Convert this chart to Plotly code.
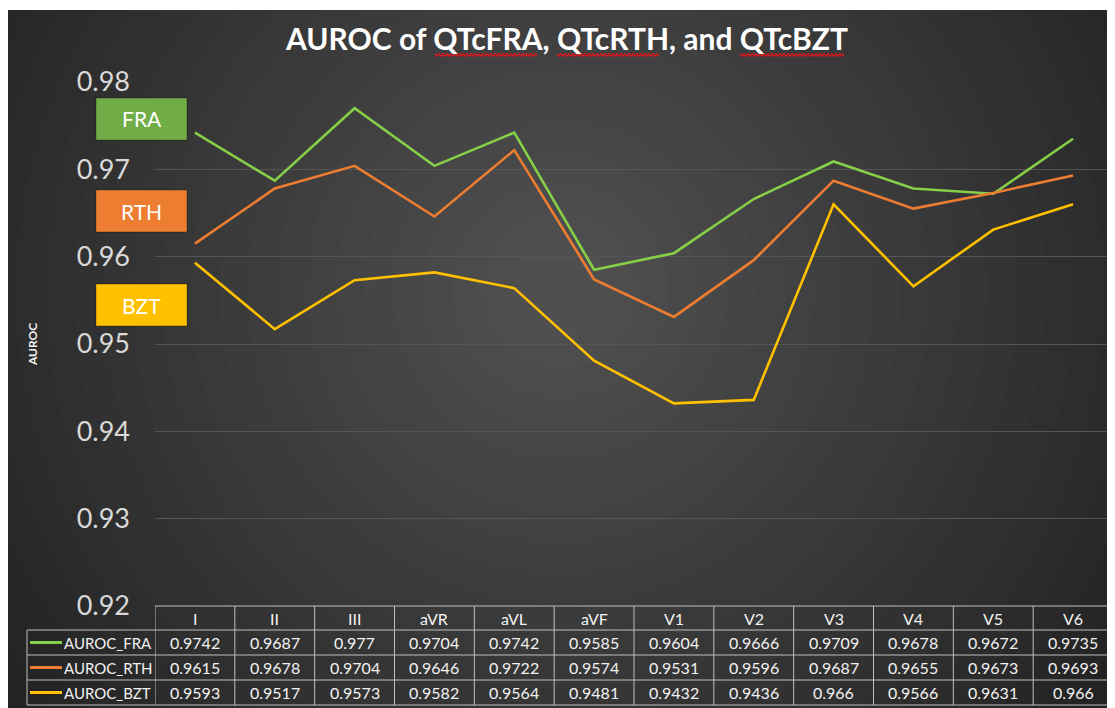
import plotly.graph_objects as go

# Data
leads = ["I", "II", "III", "aVR", "aVL", "aVF", "V1", "V2", "V3", "V4", "V5", "V6"]
auroc_fra = [0.9742, 0.9687, 0.977, 0.9704, 0.9742, 0.9585, 0.9604, 0.9666, 0.9709, 0.9678, 0.9672, 0.9735]
auroc_rth = [0.9615, 0.9678, 0.9704, 0.9646, 0.9722, 0.9574, 0.9531, 0.9596, 0.9687, 0.9655, 0.9673, 0.9693]
auroc_bzt = [0.9593, 0.9517, 0.9573, 0.9582, 0.9564, 0.9481, 0.9432, 0.9436, 0.966, 0.9566, 0.9631, 0.966]
series_names = ["AUROC_FRA", "AUROC_RTH", "AUROC_BZT"]
box_labels = ["FRA", "RTH", "BZT"]

line_colors = ["#86CF48", "#ED7D31", "#FFC000"]
box_colors = ["#70AD47", "#ED7D31", "#FFC000"]

# page body adds an 8px margin, so screen coords = figure coords + OFF
OFF = 8
W, H = 1115, 708
L, R, T, B = 155 - OFF, 10, 82 - OFF, 110
pw, ph = W - L - R, H - T - B


def px(x):
    return (x - OFF - L) / pw


def py(y):
    return (H - B - (y - OFF)) / ph


FONT = "Lato, Open Sans, sans-serif"

fig = go.Figure()
for name, vals, col in zip(series_names, [auroc_fra, auroc_rth, auroc_bzt], line_colors):
    fig.add_trace(go.Scatter(x=list(range(len(leads))), y=vals, mode="lines", name=name,
                             line=dict(color=col, width=2.6), showlegend=False))

shapes = []
# dark background with a soft radial glow
shapes.append(dict(type="rect", xref="paper", yref="paper", x0=px(4), x1=px(W + 20), y0=py(H + 20), y1=py(10),
                   fillcolor="#232323", line=dict(width=0), layer="below"))
cx, cy = 560, 290
n = 22
for i in range(n):
    r = 660 - i * 29
    shapes.append(dict(type="circle", xref="paper", yref="paper",
                       x0=px(cx - r), x1=px(cx + r), y0=py(cy + r), y1=py(cy - r),
                       fillcolor="rgba(255,255,255,0.0105)", line=dict(width=0), layer="below"))
# white strip at top edge of the screenshot
shapes.append(dict(type="rect", xref="paper", yref="paper", x0=px(-20), x1=px(W + 20), y0=py(10), y1=py(-20),
                   fillcolor="white", line=dict(width=0), layer="below"))

# spell-check squiggles under the title words
for x_start, x_end in [(435, 538), (557, 660), (740, 845)]:
    pts = []
    x, k = x_start, 0
    while x <= x_end:
        pts.append(f"{px(x):.5f},{py(55 + (1.2 if k % 2 else -1.2)):.5f}")
        x += 2
        k += 1
    shapes.append(dict(type="path", xref="paper", yref="paper", path="M" + " L".join(pts),
                       line=dict(color="#E8141B", width=1.2)))

# data table grid
tc = "#BFBFBF"
row_edges = [606, 630, 655, 680, 705]
shapes.append(dict(type="line", xref="paper", yref="paper", x0=0, x1=1, y0=py(row_edges[0]), y1=py(row_edges[0]),
                   line=dict(color=tc, width=1)))
for yy in row_edges[1:]:
    shapes.append(dict(type="line", xref="paper", yref="paper", x0=px(27), x1=1, y0=py(yy), y1=py(yy),
                       line=dict(color=tc, width=1)))
for i in range(len(leads) + 1):
    shapes.append(dict(type="line", xref="x", yref="paper", x0=i - 0.5, x1=i - 0.5,
                       y0=py(row_edges[0]), y1=py(row_edges[-1]), line=dict(color=tc, width=1)))
shapes.append(dict(type="line", xref="paper", yref="paper", x0=px(27), x1=px(27),
                   y0=py(row_edges[1]), y1=py(row_edges[-1]), line=dict(color=tc, width=1)))

annotations = []
tf = dict(family=FONT, size=16, color="#F2F2F2")
for i, lead in enumerate(leads):
    annotations.append(dict(x=i, y=py((row_edges[0] + row_edges[1]) / 2), xref="x", yref="paper",
                            text=lead, showarrow=False, xanchor="center", yanchor="middle", font=tf))
for r, (name, vals, col) in enumerate(zip(series_names, [auroc_fra, auroc_rth, auroc_bzt], line_colors)):
    yc = py((row_edges[r + 1] + row_edges[r + 2]) / 2)
    shapes.append(dict(type="line", xref="paper", yref="paper", x0=px(30), x1=px(62), y0=yc, y1=yc,
                       line=dict(color=col, width=3)))
    annotations.append(dict(x=px(62), y=yc, xref="paper", yref="paper", text=name, showarrow=False,
                            xanchor="left", yanchor="middle", font=dict(family=FONT, size=15, color="#F2F2F2")))
    for i, v in enumerate(vals):
        annotations.append(dict(x=i, y=yc, xref="x", yref="paper", text=f"{v:g}", showarrow=False,
                                xanchor="center", yanchor="middle", font=tf))

# series label boxes
box_tops = [98, 190, 284]
for lab, col, top in zip(box_labels, box_colors, box_tops):
    shapes.append(dict(type="rect", xref="paper", yref="paper", x0=px(96), x1=px(187),
                       y0=py(top + 42), y1=py(top), fillcolor=col, line=dict(color="rgba(0,0,0,0.3)", width=1)))
    annotations.append(dict(x=px(141.5), y=py(top + 21), xref="paper", yref="paper", text=lab, showarrow=False,
                            xanchor="center", yanchor="middle",
                            font=dict(family=FONT, size=21, color="white")))

# y axis title
annotations.append(dict(x=px(32), y=py(345), xref="paper", yref="paper", text="<b>AUROC</b>", showarrow=False,
                        textangle=-90, xanchor="center", yanchor="middle",
                        font=dict(family=FONT, size=12, color="#F2F2F2")))

fig.update_layout(
    width=W, height=H,
    margin=dict(l=L, r=R, t=T, b=B),
    paper_bgcolor="white",
    plot_bgcolor="rgba(0,0,0,0)",
    title=dict(text="<b>AUROC of QTcFRA, QTcRTH, and QTcBZT</b>", x=(567 - OFF) / W, xref="container",
               xanchor="center", y=1 - (39 - OFF) / H, yref="container", yanchor="middle",
               font=dict(family=FONT, size=30, color="white")),
    shapes=shapes,
    annotations=annotations,
    xaxis=dict(range=[-0.5, len(leads) - 0.5], showticklabels=False, showgrid=False, zeroline=False,
               showline=False),
    yaxis=dict(range=[0.92, 0.98], dtick=0.01, tickformat=".2f", showgrid=True, gridcolor="#555555",
               gridwidth=1, zeroline=False, showline=False, ticklabelstandoff=24,
               tickfont=dict(family=FONT, size=27, color="#D9D9D9")),
)

fig.write_html("out.html")
